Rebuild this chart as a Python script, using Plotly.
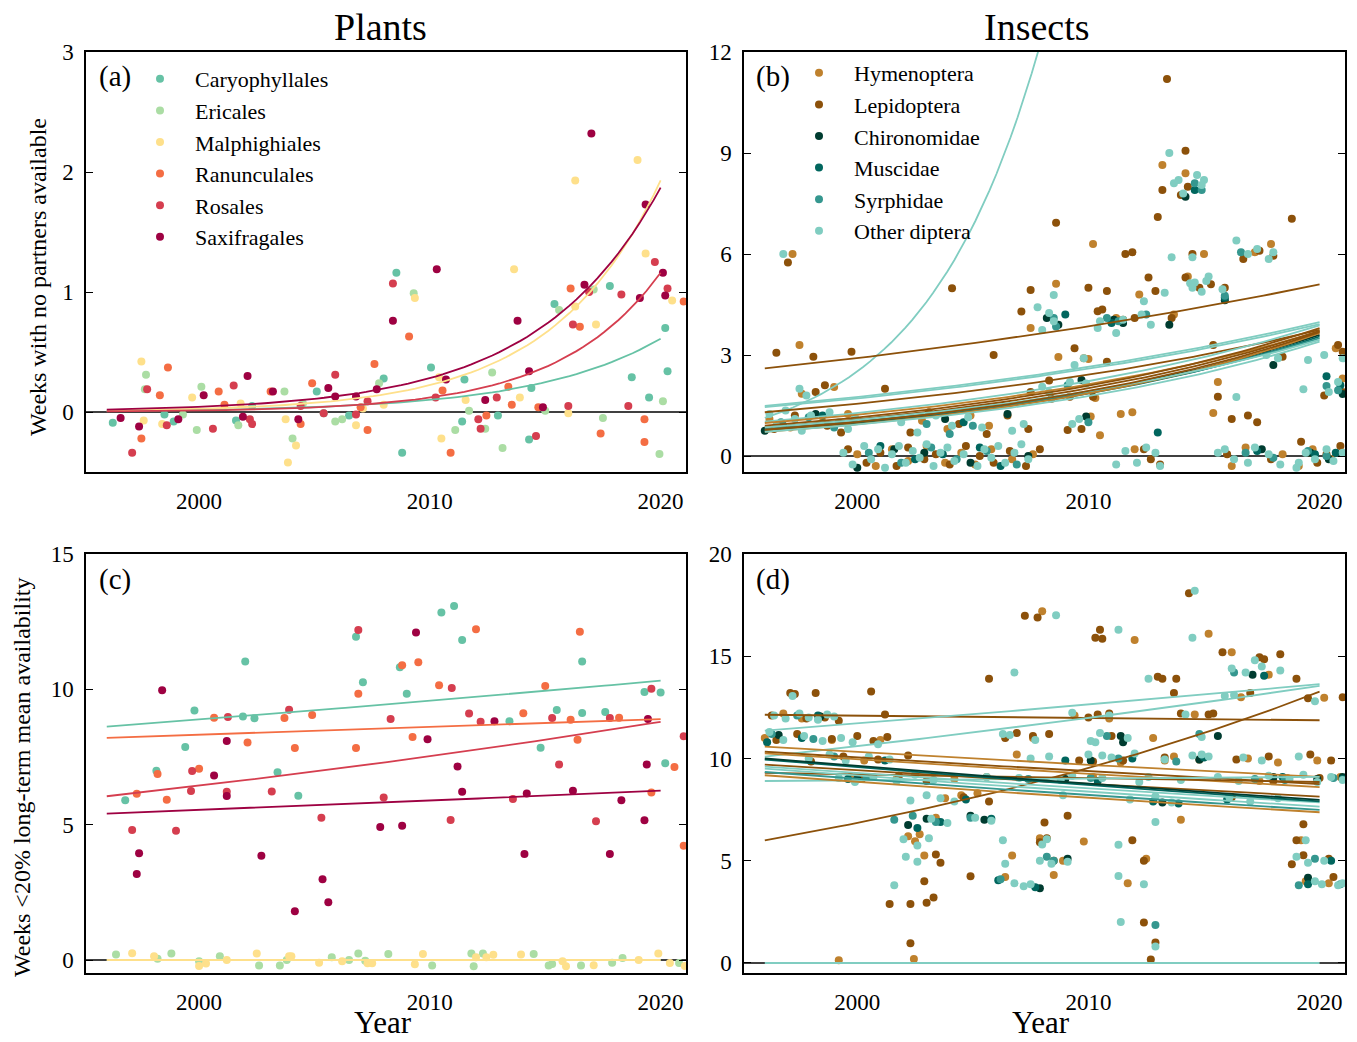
import numpy as np
import plotly.graph_objects as go

W, H = 1357, 1042
FONT = "Liberation Serif"

plant_names = ["Caryophyllales", "Ericales", "Malphighiales", "Ranunculales", "Rosales", "Saxifragales"]
plant_colors = ["#66c2a5", "#abdda4", "#fee08b", "#f46d43", "#d53e4f", "#9e0142"]
insect_names = ["Hymenoptera", "Lepidoptera", "Chironomidae", "Muscidae", "Syrphidae", "Other diptera"]
insect_colors = ["#bf812d", "#8c510a", "#003c30", "#01665e", "#35978f", "#80cdc1"]

# ---------------- Panel (a): weeks with no partners, plants ----------------
a_caryo = [(1996.26,-0.09),(1998.5,-0.02),(1998.9,-0.08),(2001.6,-0.07),(2002.3,0.05),(2005.1,0.17),(2005.4,-0.01),
           (2006.5,-0.03),(2008.0,0.28),(2008.55,1.16),(2008.8,-0.34),(2010.05,0.37),(2011.4,-0.08),(2011.5,0.27),
           (2012.95,-0.03),(2014.3,-0.23),(2014.4,0.2),(2015.4,0.9),(2017.8,1.05),(2018.75,0.29),(2019.5,0.12),
           (2020.2,0.7),(2020.3,0.34)]
a_eric = [(1997.7,0.31),(1997.65,0.19),(1999.3,-0.02),(2000.1,0.21),(1999.9,-0.15),(2001.7,-0.11),(2003.7,0.17),
          (2004.5,0.07),(2004.05,-0.22),(2005.9,-0.08),(2006.2,-0.06),(2007.8,0.24),(2009.3,0.99),(2011.7,0.01),
          (2011.1,-0.15),(2012.4,-0.14),(2012.7,0.33),(2013.15,-0.3),(2015.0,0.01),(2015.6,0.85),(2017.1,1.02),
          (2017.5,-0.05),(2019.95,-0.35),(2020.1,0.09)]
a_malph = [(1997.5,0.42),(1997.6,-0.07),(1998.4,-0.1),(1999.7,0.12),(2001.8,0.07),(2003.75,-0.06),(2004.2,-0.28),
           (2003.85,-0.42),(2006.8,-0.11),(2007.1,0.03),(2008.0,0.06),(2009.35,0.95),(2010.4,0.29),(2010.5,-0.22),
           (2011.55,0.1),(2013.65,1.19),(2013.9,0.12),(2016.0,-0.01),(2016.3,0.88),(2017.2,0.73),(2016.3,1.93),
           (2019.0,2.1),(2019.35,1.32),(2020.5,0.93)]
a_ranun = [(1997.5,-0.22),(1998.65,0.37),(1998.3,0.14),(2000.85,0.17),(2001.1,0.06),(2003.1,0.17),(2004.4,-0.1),
           (2004.9,0.24),(2007.3,-0.15),(2007.0,0.04),(2007.6,0.4),(2009.1,0.63),(2010.55,0.18),(2010.9,-0.34),
           (2012.45,-0.03),(2013.4,0.21),(2013.55,0.06),(2014.7,0.04),(2016.1,1.03),(2016.5,0.71),(2017.4,-0.18),
           (2019.3,-0.06),(2019.3,-0.25),(2021.0,0.92)]
a_rosal = [(1997.1,-0.34),(1997.75,0.19),(1998.6,-0.11),(2000.6,-0.14),(2001.5,0.22),(2002.2,-0.06),(2002.3,-0.1),
           (2004.4,0.05),(2005.4,-0.01),(2005.9,0.31),(2006.8,-0.02),(2007.3,0.09),(2008.4,1.07),(2010.25,0.12),
           (2012.1,-0.06),(2012.2,-0.14),(2012.9,0.12),(2014.6,-0.2),(2016.0,0.05),(2016.2,0.73),(2016.9,1.0),
           (2018.3,0.98),(2018.6,0.05),(2019.75,1.25),(2020.3,1.03)]
a_saxi = [(1996.6,-0.05),(1997.4,-0.12),(1999.1,-0.06),(2000.2,0.14),(2002.1,0.3),(2001.9,-0.04),(2003.2,0.17),
          (2004.3,-0.06),(2005.6,0.2),(2005.9,0.13),(2006.8,0.13),(2007.7,0.19),(2008.4,0.76),(2010.3,1.19),
          (2010.7,0.27),(2012.4,0.1),(2013.8,0.76),(2014.3,0.34),(2014.9,0.04),(2016.7,1.06),(2017.0,2.32),
          (2019.1,0.95),(2019.35,1.73),(2020.1,1.16),(2020.2,0.97)]
# fitted curves (series index, value at 1996, value at 2020)
a_fits = [(0, 0.008, 0.61), (2, 0.011, 1.93), (4, 0.005, 1.16), (5, 0.02, 1.87)]

# ---------------- Panel (b): weeks with no partners, insects ----------------
b_hym = [(1997.2,6.0),(1997.5,3.3),(1997.6,1.85),(1999.0,2.05),(1996.2,1.1),(1997.1,0.85),(1998.5,1.0),(1999.6,1.25),
         (2000.0,0.05),(2000.8,-0.3),(2001.5,0.2),(2002.2,-0.15),(2003.0,0.3),(2003.8,-0.2),(2004.5,0.1),(2005.1,-0.25),
         (2005.8,0.2),(2006.7,-0.1),(2007.6,0.05),(2002.8,1.05),(2003.9,0.8),(2004.9,1.2),(2005.7,0.9),
         (2007.5,3.8),(2008.6,5.12),(2008.7,2.94),(2009.8,2.9),(2010.0,2.88),(2010.2,6.3),(2010.3,1.72),(2010.1,1.17),
         (2010.5,0.62),(2011.2,4.1),(2011.4,1.25),(2011.9,1.3),(2012.2,4.8),(2012.0,0.2),(2013.2,8.64),(2013.7,4.2),
         (2014.2,8.4),(2014.3,5.33),(2015.0,6.0),(2015.4,1.28),(2015.6,2.2),(2016.2,-0.3),(2016.8,0.25),(2017.2,6.05),
         (2017.9,6.3),(2018.4,0.05),(2019.1,-0.3),(2019.7,0.2),(2020.5,-0.1),(2020.7,3.2),(2021.0,2.3)]
b_lep = [(1996.5,3.07),(1997.0,5.75),(1998.2,1.9),(1998.6,2.1),(1998.1,2.95),(1999.75,3.1),(1996.4,0.8),(1997.3,1.2),
         (1998.7,0.9),(1999.3,0.7),(2001.2,2.0),(1999.6,0.2),(2000.4,-0.2),(2001.0,0.1),(2001.7,-0.3),(2002.2,0.25),
         (2002.9,-0.1),(2003.4,0.05),(2004.0,-0.25),(2004.7,0.3),(2005.3,0.0),(2005.9,-0.2),(2006.6,0.15),(2007.3,-0.3),
         (2007.9,0.2),(2002.3,0.7),(2003.1,1.3),(2004.4,0.95),(2005.6,0.65),(2006.5,1.2),(2007.4,0.8),(2004.1,4.98),
         (2005.9,3.0),(2007.1,4.29),(2007.5,4.93),(2007.5,1.9),(2008.6,6.93),(2008.3,2.24),(2008.4,1.7),(2009.4,3.2),
         (2009.2,1.76),(2009.1,0.77),(2009.7,0.8),(2010.0,5.0),(2010.8,4.9),(2010.8,2.8),(2010.2,1.76),(2010.4,4.3),
         (2010.6,4.35),(2011.5,4.05),(2011.6,6.0),(2011.9,6.05),(2012.0,4.1),(2012.4,0.2),(2012.7,-0.1),(2012.6,5.3),
         (2012.9,4.9),(2013.0,7.1),(2013.1,-0.25),(2013.2,7.9),(2013.4,11.2),(2013.6,4.1),(2014.2,9.07),(2014.0,7.75),
         (2014.3,8.0),(2014.2,5.3),(2014.5,6.0),(2014.8,5.0),(2015.3,5.1),(2015.4,3.3),(2015.6,1.76),(2015.9,5.0),
         (2016.0,0.05),(2016.2,1.1),(2016.9,1.2),(2017.3,1.0),(2016.7,5.85),(2017.4,6.1),(2018.0,5.95),(2017.9,-0.1),
         (2018.4,2.95),(2018.8,7.05),(2019.2,0.42),(2019.6,0.1),(2019.9,-0.2),(2020.3,0.05),(2020.2,1.8),(2020.8,3.3),
         (2021.0,3.1),(2020.9,0.3),(2021.0,1.9)]
b_chir = [(1996.0,0.75),(1998.2,1.25),(2000.0,-0.35),(2001.6,0.2),(2002.9,0.1),(2003.8,1.1),(2004.9,-0.2),(2006.5,1.25),
          (2007.4,0.0),(2008.2,4.1),(2008.7,3.9),(2009.7,2.26),(2009.9,1.17),(2011.1,4.05),(2011.5,3.95),(2013.5,3.9),
          (2014.2,7.7),(2015.9,4.63),(2017.5,0.2),(2018.0,2.7),(2019.6,0.1),(2021.0,1.84),(2020.4,-0.1)]
b_musc = [(1996.8,0.9),(1998.5,1.2),(2001.0,0.3),(2002.5,-0.1),(2003.7,0.05),(2005.3,0.25),(2006.2,-0.3),(2004.6,1.0),
          (2009.0,4.2),(2011.0,3.95),(2013.0,0.7),(2014.6,7.9),(2015.9,4.7),(2017.3,0.15),(2019.8,0.05),(2020.3,2.37),
          (2020.9,2.1),(2020.7,0.1)]
b_syr = [(1996.7,1.0),(1997.9,1.15),(1999.0,0.85),(2000.5,0.1),(2001.9,-0.2),(2003.2,0.25),(2004.3,-0.1),(2005.6,0.15),
         (2006.9,-0.25),(2003.0,0.95),(2004.0,0.65),(2005.0,0.9),(2008.5,4.1),(2008.6,3.85),(2009.1,2.1),(2010.8,4.1),
         (2011.3,4.0),(2012.5,4.2),(2014.6,8.1),(2014.9,7.9),(2015.9,4.76),(2016.6,6.05),(2017.7,3.05),(2016.8,0.1),
         (2018.0,-0.05),(2019.5,0.15),(2020.3,0.0),(2020.3,2.08),(2020.8,1.95),(2010.0,1.0)]
b_other = [(1996.2,1.25),(1996.5,0.9),(1996.9,1.35),(1997.3,1.1),(1997.6,0.75),(1998.0,1.2),(1998.4,0.95),(1998.8,1.3),
           (1999.2,1.0),(1999.6,0.8),(1999.9,1.15),(1996.8,6.0),(1997.5,2.0),(1997.8,1.8),(1999.4,0.1),(1999.8,-0.25),
           (2000.3,0.3),(2000.6,-0.1),(2000.9,0.2),(2001.2,-0.35),(2001.5,0.05),(2001.8,0.3),(2002.1,-0.2),(2002.4,0.15),
           (2002.7,-0.05),(2003.0,0.35),(2003.3,-0.3),(2003.6,0.1),(2003.9,0.25),(2004.2,-0.15),(2004.6,0.05),
           (2005.2,-0.3),(2005.5,0.2),(2005.8,-0.05),(2006.1,0.3),(2006.4,-0.2),(2006.8,0.1),(2007.1,0.35),(2007.4,-0.1),
           (2001.9,1.0),(2002.6,0.7),(2003.4,1.2),(2004.1,0.9),(2004.8,1.15),(2005.4,0.85),(2006.7,0.75),(2007.2,0.95),
           (2008.0,2.06),(2008.3,1.9),(2009.2,2.2),(2009.9,2.15),(2009.4,2.7),(2009.8,2.9),(2009.6,1.1),(2009.3,0.95),
           (2007.8,4.42),(2008.0,3.74),(2008.3,4.25),(2008.5,4.0),(2008.5,4.78),(2010.4,3.8),(2010.5,4.0),(2011.2,3.65),
           (2011.5,4.05),(2012.3,4.2),(2012.7,3.9),(2013.3,4.85),(2012.4,4.6),(2014.4,5.13),(2014.6,5.15),(2014.5,5.0),
           (2015.2,5.33),(2015.1,5.2),(2015.8,4.95),(2014.9,4.88),(2013.5,9.0),(2013.7,8.1),(2013.9,8.2),(2014.1,7.8),
           (2014.7,8.35),(2015.0,8.2),(2014.9,8.05),(2013.6,5.9),(2014.5,5.9),(2016.4,6.4),(2016.9,6.0),(2017.3,6.15),
           (2017.8,5.85),(2018.0,6.05),(2017.7,3.0),(2018.2,2.9),(2019.5,2.85),(2020.2,3.0),(2021.0,2.9),(2016.4,1.75),
           (2019.3,1.98),(2020.4,1.9),(2020.8,2.2),(2011.2,-0.25),(2011.6,0.15),(2012.1,-0.2),(2012.5,0.25),(2012.9,0.1),
           (2013.1,-0.3),(2015.6,0.1),(2015.9,0.2),(2016.3,-0.1),(2016.9,-0.2),(2017.2,0.25),(2017.8,0.05),(2018.3,-0.25),
           (2019.1,-0.2),(2019.4,0.1),(2019.8,-0.1),(2020.3,0.2),(2020.6,-0.15),(2021.0,0.1),(2019.0,-0.35)]
# fitted curves (series index, value at 1996, value at 2020)
b_fits = [(5, 1.13, 137.0), (1, 2.6, 5.1), (5, 1.49, 3.98), (5, 1.45, 3.92), (1, 1.30, 3.75), (5, 1.02, 3.88),
          (0, 0.98, 3.70), (1, 0.90, 3.80), (1, 0.85, 3.72), (2, 0.78, 3.60), (3, 0.75, 3.55), (4, 0.80, 3.50),
          (0, 0.72, 3.65), (5, 0.72, 3.40), (5, 0.85, 3.45), (1, 0.78, 3.68)]

# ---------------- Panel (c): weeks <20% long-term mean, plants ----------------
c_caryo = [(1996.8,5.9),(1998.15,6.99),(1999.4,7.87),(1999.8,9.22),(2002.0,11.03),(2001.9,9.0),(2002.4,8.93),
           (2003.4,6.94),(2004.3,6.07),(2006.8,11.94),(2007.1,10.26),(2008.7,10.82),(2009.0,9.84),(2010.5,12.84),
           (2011.05,13.08),(2011.4,11.82),(2013.45,8.82),(2014.8,7.84),(2015.5,9.24),(2016.6,11.03),(2016.6,9.13),
           (2017.6,9.16),(2019.3,9.9),(2020.0,9.88),(2020.2,7.27)]
c_eric = [(1996.4,0.2),(1998.2,0.05),(1998.8,0.24),(2000.0,-0.05),(2000.9,0.14),(2002.6,-0.2),(2003.5,-0.2),
          (2003.8,0.0),(2005.75,0.1),(2006.5,0.0),(2006.9,0.24),(2007.2,-0.03),(2008.2,0.22),(2010.1,-0.2),
          (2011.8,0.24),(2011.9,-0.23),(2012.3,0.24),(2014.5,0.22),(2015.15,-0.2),(2015.3,-0.15),(2016.55,-0.2),
          (2017.9,-0.1),(2018.35,0.07),(2020.8,-0.11)]
c_malph = [(1997.1,0.25),(1998.05,0.14),(2000.0,-0.22),(2000.3,-0.13),(2001.2,0.0),(2002.5,0.24),(2003.9,0.14),
           (2004.0,0.14),(2005.2,-0.1),(2006.2,-0.05),(2007.3,-0.12),(2007.5,-0.12),(2009.35,-0.16),(2009.7,0.22),
           (2012.0,0.1),(2012.45,0.1),(2012.75,0.19),(2013.95,0.2),(2015.75,-0.05),(2015.9,-0.23),(2017.1,-0.19),
           (2019.05,0.0),(2019.9,0.24),(2020.4,-0.11),(2021.05,-0.22)]
c_ranun = [(1997.3,6.14),(1998.2,6.87),(1998.6,5.92),(2000.0,7.07),(2000.65,8.95),(2002.1,8.04),(2003.7,8.94),
           (2004.15,7.83),(2004.9,9.05),(2006.8,7.83),(2006.9,9.84),(2008.8,10.89),(2009.5,11.0),(2009.25,8.24),
           (2010.4,10.15),(2012.0,12.22),(2014.05,9.12),(2015.0,10.12),(2016.1,8.88),(2016.4,8.14),(2016.5,12.13),
           (2018.2,8.95),(2019.6,6.19),(2020.6,7.13),(2021.0,4.22)]
c_rosal = [(1997.1,4.8),(1999.0,4.78),(1999.7,6.98),(1999.65,6.24),(2001.2,6.22),(2001.25,8.98),(2003.15,6.23),
           (2003.9,9.25),(2005.3,5.26),(2006.9,12.19),(2008.0,6.0),(2008.3,8.9),(2010.9,5.17),(2010.95,10.05),
           (2011.7,9.11),(2012.2,8.8),(2013.6,5.95),(2015.3,8.94),(2015.6,7.22),(2017.2,5.13),(2017.8,8.94),
           (2019.6,10.02),(2021.0,8.27)]
c_saxi = [(1998.4,9.97),(1997.4,3.94),(1997.3,3.18),(2000.65,6.82),(2001.2,8.09),(2001.2,6.06),(2002.7,3.85),
          (2004.15,1.8),(2005.35,2.98),(2005.6,2.13),(2007.85,4.91),(2008.8,4.96),(2009.4,12.1),(2009.9,8.16),
          (2011.2,7.15),(2011.4,6.22),(2012.8,8.82),(2014.1,3.92),(2014.2,6.15),(2016.2,6.25),(2017.8,3.92),
          (2018.3,5.9),(2019.3,5.16),(2019.4,7.22),(2019.45,8.9)]
c_fits = [(1, 0.0, 0.0), (2, 0.0, 0.0), (0, 8.62, 10.32), (3, 8.21, 8.9), (4, 6.05, 8.8), (5, 5.41, 6.26)]

# ---------------- Panel (d): weeks <20% long-term mean, insects ----------------
d_hym = [(1996.0,11.0),(1996.8,12.2),(1997.6,11.95),(1998.4,12.05),(1998.9,10.9),(1999.2,0.13),(1999.7,9.1),(2000.3,9.9),
         (2001.0,10.9),(2001.7,9.0),(2002.45,0.2),(2002.2,6.2),(2002.5,5.95),(2002.7,6.3),(2002.9,5.25),(2003.4,7.1),
         (2003.8,8.05),(2004.5,8.2),(2004.2,9.0),(2005.2,8.3),(2005.6,9.1),(2006.4,4.2),(2006.7,5.25),(2006.9,10.2),
         (2007.6,11.0),(2007.9,6.1),(2008.0,17.2),(2008.5,4.3),(2008.9,5.0),(2009.4,12.1),(2009.8,5.94),(2010.2,9.1),
         (2010.9,11.95),(2011.4,9.8),(2011.7,3.9),(2012.0,15.8),(2012.5,5.1),(2012.8,11.0),(2013.3,9.9),(2013.7,10.1),
         (2014.0,7.0),(2014.6,12.15),(2015.2,16.1),(2016.2,15.2),(2016.6,13.0),(2016.9,10.0),(2017.4,8.9),(2017.8,14.1),
         (2018.2,9.8),(2018.6,9.05),(2019.2,6.0),(2019.4,4.0),(2019.9,9.9),(2020.2,12.97),(2020.4,3.9),(2020.9,9.1)]
d_lep = [(1996.3,12.1),(1997.1,13.2),(1997.3,13.15),(1997.8,11.95),(1998.2,13.2),(1998.6,12.0),(1999.2,11.85),
         (2000.6,13.28),(2001.2,12.15),(1996.5,10.9),(1997.4,11.2),(1998.9,10.95),(2000.0,11.1),(2000.7,10.85),
         (2001.3,11.05),(1998.0,9.85),(1999.4,10.1),(2000.9,9.95),(2002.2,10.15),(2000.2,9.0),(2001.8,9.15),(2003.0,8.9),
         (2001.4,2.88),(2002.3,2.88),(2003.0,2.95),(2002.3,0.96),(2002.9,4.0),(2003.3,3.2),(2003.4,5.3),(2003.6,4.9),
         (2004.9,4.24),(2004.6,8.1),(2005.7,7.9),(2005.7,13.9),(2006.4,11.0),(2006.9,11.25),(2007.25,16.98),(2007.6,11.1),
         (2007.8,16.9),(2007.9,5.9),(2008.1,6.87),(2008.2,6.1),(2008.3,11.2),(2009.1,7.2),(2008.5,5.0),(2009.6,9.9),
         (2010.3,15.9),(2010.5,16.3),(2010.6,15.85),(2010.0,12.0),(2010.4,12.15),(2010.9,12.2),(2011.0,11.1),(2010.2,9.85),
         (2011.5,9.9),(2011.9,6.0),(2012.4,5.0),(2012.4,1.98),(2012.9,1.0),(2012.7,0.17),(2013.0,14.0),(2013.2,13.9),
         (2013.8,13.9),(2013.7,13.2),(2013.3,10.05),(2014.35,18.08),(2014.0,12.2),(2014.8,9.95),(2015.2,12.15),
         (2015.4,12.2),(2015.8,15.2),(2016.4,9.95),(2016.2,8.1),(2017.0,13.2),(2017.4,14.95),(2017.6,14.85),(2018.3,15.1),
         (2017.8,10.1),(2018.0,8.9),(2019.0,13.9),(2019.0,6.0),(2019.3,6.78),(2019.3,5.27),(2018.8,4.83),(2019.5,12.94),
         (2019.6,10.2),(2020.0,9.05),(2020.5,9.9),(2020.4,5.1),(2020.6,4.2),(2021.0,13.0),(2021.0,9.0)]
d_chir = [(1996.6,11.15),(1998.4,12.05),(2000.0,9.0),(2002.2,6.75),(2003.0,7.05),(2004.9,7.2),(2005.5,7.0),(2007.9,3.65),
          (2009.1,5.1),(2009.0,9.0),(2010.1,9.9),(2011.4,11.1),(2011.5,10.8),(2013.2,7.85),(2014.8,9.95),(2015.6,11.1),
          (2017.1,14.1),(2018.0,9.1),(2019.5,4.17),(2019.9,9.0),(2021.0,9.1)]
d_musc = [(1996.1,10.8),(1997.6,11.0),(1998.3,12.1),(1999.6,9.0),(2001.2,9.9),(2002.6,6.6),(2003.6,6.9),(2004.7,8.0),
          (2005.8,7.05),(2006.1,4.05),(2007.7,3.7),(2009.0,9.9),(2010.4,8.9),(2011.9,10.0),(2012.8,7.9),(2013.9,7.8),
          (2015.0,10.05),(2016.0,8.0),(2017.6,14.05),(2018.4,9.1),(2019.5,3.85),(2020.5,5.0),(2021.0,9.0)]
d_syr = [(1996.3,11.2),(1997.4,12.1),(1998.1,10.95),(1999.0,10.1),(2000.4,9.1),(2001.6,7.0),(2002.4,7.2),(2003.4,6.9),
         (2004.9,7.1),(2006.2,4.1),(2007.4,9.0),(2008.2,5.2),(2008.5,5.0),(2010.1,9.05),(2010.8,11.1),(2011.3,10.0),
         (2012.9,1.86),(2013.8,9.85),(2014.8,11.2),(2016.3,14.2),(2017.2,9.0),(2018.5,8.95),(2019.1,3.8),(2019.8,5.1),
         (2020.9,3.85),(2020.6,9.05)]
d_other = [(1996.4,12.1),(1996.9,11.95),(1997.5,12.2),(1997.9,12.0),(1998.3,11.9),(1998.7,12.15),(1999.0,12.05),
           (1997.2,13.05),(1996.2,11.3),(1996.8,10.9),(1997.7,11.1),(1998.5,10.85),(1999.3,11.0),(1999.8,10.8),
           (2000.9,10.7),(1997.9,10.0),(1998.8,10.2),(1999.5,9.9),(2000.5,10.1),(2001.4,9.95),(1999.2,9.05),(1999.9,8.85),
           (2000.7,9.1),(2001.7,8.9),(2002.5,9.2),(2003.3,8.95),(2002.3,7.95),(2003.0,8.2),(2003.6,8.05),(2004.2,7.9),
           (2003.2,7.05),(2003.9,6.85),(2005.1,7.1),(2005.8,6.95),(2002.0,6.05),(2002.6,5.75),(2003.1,6.1),(2006.3,6.0),
           (2008.2,6.05),(2008.0,5.8),(2002.1,5.2),(2002.6,4.95),(2006.4,4.85),(2007.9,5.0),(2008.4,4.85),(2009.1,4.95),
           (2011.3,4.25),(2012.4,3.85),(2001.6,3.8),(2006.8,3.9),(2007.2,3.75),(2007.5,3.85),(2008.6,17.0),(2006.8,14.2),
           (2012.6,13.9),(2011.3,16.3),(2014.5,15.9),(2014.6,18.2),(2016.2,14.4),(2016.8,14.2),(2017.2,14.8),(2017.5,14.5),
           (2018.3,14.3),(2015.9,13.05),(2016.3,13.1),(2019.8,12.8),(2009.3,12.24),(2010.9,12.1),(2014.2,12.15),
           (2006.3,11.2),(2006.6,11.15),(2010.5,11.25),(2010.1,10.85),(2010.3,10.8),(2011.7,11.0),(2007.7,10.9),
           (2014.9,11.05),(2007.5,10.0),(2008.3,10.1),(2010.0,10.2),(2010.6,10.15),(2011.0,10.05),(2012.0,10.25),
           (2013.3,9.95),(2014.5,10.15),(2014.9,10.2),(2015.2,10.1),(2016.7,10.05),(2017.5,9.9),(2019.1,10.1),
           (2005.6,9.1),(2007.0,9.05),(2008.8,8.95),(2009.3,9.15),(2010.6,9.05),(2012.2,8.85),(2012.6,9.1),(2014.0,8.95),
           (2015.6,9.1),(2016.5,8.9),(2017.8,9.15),(2018.7,9.0),(2019.3,9.2),(2019.9,8.85),(2020.5,9.1),(2021.0,8.95),
           (2008.9,8.2),(2011.8,8.0),(2012.9,8.15),(2013.6,7.85),(2016.1,8.1),(2017.0,7.9),(2018.2,8.05),(2012.9,6.9),
           (2011.3,5.78),(2011.4,2.0),(2012.9,0.8),(2019.4,6.0),(2019.0,5.2),(2019.5,4.9),(2020.2,5.0),(2019.8,4.0),
           (2020.1,3.85),(2020.8,3.8),(2021.0,3.9)]
d_fits = [(5, 0.0, 0.0), (1, 12.14, 11.87), (1, 6.0, 13.27), (5, 11.36, 13.64), (5, 10.09, 13.55),
          (0, 10.58, 9.10), (1, 10.33, 8.75), (0, 10.25, 8.60), (1, 9.30, 8.85), (5, 8.90, 9.10), (1, 9.70, 8.14),
          (5, 9.60, 7.85), (5, 9.50, 7.65), (4, 9.34, 7.49), (0, 9.18, 7.37), (3, 9.95, 7.90), (2, 10.0, 7.98)]

panels = [
    dict(series=[a_caryo, a_eric, a_malph, a_ranun, a_rosal, a_saxi], names=plant_names, colors=plant_colors,
         fits=a_fits, yrange=[-0.5, 3.0], ticks=[0, 1, 2, 3], legend="legend"),
    dict(series=[b_hym, b_lep, b_chir, b_musc, b_syr, b_other], names=insect_names, colors=insect_colors,
         fits=b_fits, yrange=[-0.475, 12.0], ticks=[0, 3, 6, 9, 12], legend="legend2"),
    dict(series=[c_caryo, c_eric, c_malph, c_ranun, c_rosal, c_saxi], names=plant_names, colors=plant_colors,
         fits=c_fits, yrange=[-0.48, 15.0], ticks=[0, 5, 10, 15], legend=None),
    dict(series=[d_hym, d_lep, d_chir, d_musc, d_syr, d_other], names=insect_names, colors=insect_colors,
         fits=d_fits, yrange=[-0.49, 20.0], ticks=[0, 5, 10, 15, 20], legend=None),
]

# pixel boxes of each panel (left, top, right, bottom)
boxes = [(86, 52, 686, 472), (744, 52, 1345, 472), (86, 554, 686, 973), (744, 554, 1345, 973)]

fig = go.Figure()
fit_t = np.linspace(1996, 2020, 80)

for i, p in enumerate(panels):
    sfx = "" if i == 0 else str(i + 1)
    xa, ya = "x" + sfx, "y" + sfx
    for k, pts in enumerate(p["series"]):
        fig.add_trace(go.Scatter(
            x=[q[0] for q in pts], y=[q[1] for q in pts], mode="markers",
            marker=dict(size=8, color=p["colors"][k], line=dict(width=0)),
            name=p["names"][k], xaxis=xa, yaxis=ya,
            showlegend=p["legend"] is not None,
            legend=p["legend"] if p["legend"] else "legend",
        ))
    for (k, v0, v1) in p["fits"]:
        if v0 > 0:
            yv = v0 * (v1 / v0) ** ((fit_t - 1996) / 24.0)
        else:
            yv = np.zeros_like(fit_t)
        fig.add_trace(go.Scatter(
            x=fit_t, y=yv, mode="lines", line=dict(color=p["colors"][k], width=1.8),
            showlegend=False, xaxis=xa, yaxis=ya, hoverinfo="skip",
        ))

layout = dict(
    width=W, height=H, margin=dict(l=0, r=0, t=0, b=0, autoexpand=False),
    paper_bgcolor="white", plot_bgcolor="white",
    font=dict(family=FONT, size=23, color="black"),
    showlegend=True,
)

axis_common = dict(showline=True, linecolor="black", linewidth=1.5, mirror="allticks", showgrid=False,
                   zeroline=False, automargin=False, tickfont=dict(family=FONT, size=23, color="black"))
for i, (l, t, r, b) in enumerate(boxes):
    sfx = "" if i == 0 else str(i + 1)
    layout["xaxis" + sfx] = dict(axis_common, domain=[l / W, r / W], range=[1995.1, 2021.1],
                                 tickvals=[2000, 2010, 2020], ticks="", anchor="y" + sfx,
                                 ticklabelstandoff=8)
    layout["yaxis" + sfx] = dict(axis_common, domain=[1 - b / H, 1 - t / H], range=panels[i]["yrange"],
                                 tickvals=panels[i]["ticks"], ticks="inside", ticklen=7, tickwidth=1.2,
                                 tickcolor="black", anchor="x" + sfx, ticklabelstandoff=6)

layout["legend"] = dict(x=125 / W, y=1 - 58 / H, xanchor="left", yanchor="top", bgcolor="rgba(0,0,0,0)",
                        font=dict(family=FONT, size=22), itemwidth=60, tracegroupgap=0)
layout["legend2"] = dict(x=784 / W, y=1 - 52 / H, xanchor="left", yanchor="top", bgcolor="rgba(0,0,0,0)",
                         font=dict(family=FONT, size=22), itemwidth=60, tracegroupgap=0)

fig.update_layout(**layout)

shapes = []
for i in range(4):
    sfx = "" if i == 0 else str(i + 1)
    shapes.append(dict(type="line", xref="x" + sfx + " domain", x0=0, x1=1, yref="y" + sfx, y0=0, y1=0,
                       line=dict(color="black", width=1.6), layer="below"))
fig.update_layout(shapes=shapes)

def ann(text, x, y, size, angle=0, yanchor="middle"):
    return dict(text=text, x=x / W, y=1 - y / H, xref="paper", yref="paper", showarrow=False,
                font=dict(family=FONT, size=size, color="black"), textangle=angle,
                xanchor="center", yanchor=yanchor, borderpad=0)

annotations = [
    ann("Plants", 380, 27, 38), ann("Insects", 1037, 27, 38),
    ann("Weeks with no partners available", 38, 277, 24, -90),
    ann("Weeks &lt;20% long-term mean availability", 22, 778, 24, -90),
    ann("Year", 383, 1041, 31, yanchor="bottom"), ann("Year", 1041, 1041, 31, yanchor="bottom"),
    ann("(a)", 115, 77, 29), ann("(b)", 773, 77, 29), ann("(c)", 115, 579, 29), ann("(d)", 773, 579, 29),
]
fig.update_layout(annotations=annotations)

fig.write_html("out.html")
